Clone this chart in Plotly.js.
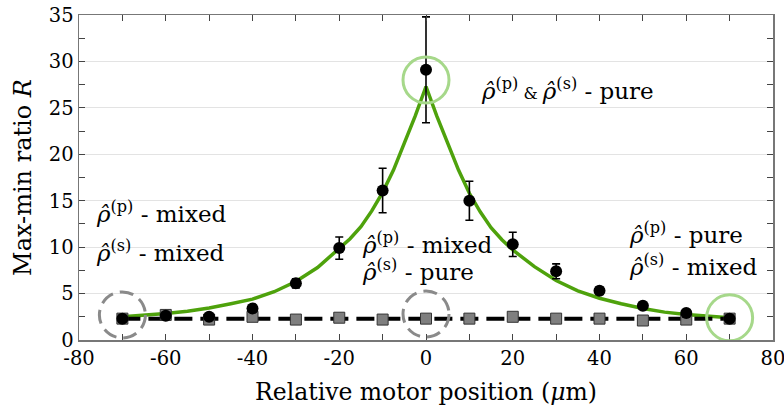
<!DOCTYPE html>
<html>
<head>
<meta charset="utf-8">
<script src="https://cdn.plot.ly/plotly-3.0.1.min.js"></script>
<style>html,body{margin:0;padding:0;background:#fff;}#chart{width:784px;height:417px;}</style>
</head>
<body>
<div id="chart"></div>
<script>
// Measured points (black circles)
var posX = [-70, -60, -50, -40, -30, -20, -10, 0, 10, 20, 30, 40, 50, 60, 70];
var ratioR = [2.3, 2.6, 2.5, 3.4, 6.1, 9.9, 16.1, 29.1, 15.0, 10.3, 7.4, 5.3, 3.7, 2.9, 2.3];
var ratioErr = [0.2, 0.3, 0.2, 0.3, 0.5, 1.2, 2.4, 5.7, 2.1, 1.3, 0.8, 0.4, 0.3, 0.2, 0.2];
// Reference points (gray squares)
var refR = [2.3, 2.7, 2.2, 2.5, 2.2, 2.4, 2.2, 2.3, 2.3, 2.5, 2.3, 2.3, 2.1, 2.2, 2.3];
// Green fitted curve
var fitX = [-70, -65, -60, -55, -50, -45, -40, -35, -30, -25, -20, -17.5, -15, -12.5, -10, -7.5, -5, -2.5, 0,
            2.5, 5, 7.5, 10, 12.5, 15, 17.5, 20, 25, 30, 35, 40, 45, 50, 55, 60, 65, 70];
var fitY = [2.5, 2.65, 2.85, 3.1, 3.45, 3.9, 4.4, 5.2, 6.3, 7.8, 9.8, 10.9, 12.2, 13.9, 15.9, 18.3, 21.2, 24.1, 27.3,
            24.1, 21.2, 18.3, 15.8, 13.8, 12.1, 10.8, 9.7, 7.9, 6.4, 5.3, 4.5, 3.9, 3.4, 3.0, 2.75, 2.55, 2.4];
// Black dashed constant line
var flatX = [-70, 70];
var flatY = [2.3, 2.3];
// Tick labels
var xTickVals = [-80, -60, -40, -20, 0, 20, 40, 60, 80];
var xTickText = ['-80', '-60', '-40', '-20', '0', '20', '40', '60', '80'];
// Highlighted states (circles): [x, R]
var grayMarks = [[-70, 2.7], [0, 2.8]];
var greenMarks = [[0, 28.0], [70, 2.4]];

var FONT = 'DejaVu Serif';
var rho = function (s) { return '<i>ρ̂</i><sup>(' + s + ')</sup>'; };

var traces = [
  {x: fitX, y: fitY, mode: 'lines', line: {color: '#4ea20c', width: 3.5}, hoverinfo: 'skip'},
  {x: flatX, y: flatY, mode: 'lines', line: {color: '#000', width: 4, dash: '18px,8px'}, hoverinfo: 'skip'},
  {x: posX, y: refR, mode: 'markers', marker: {symbol: 'square', size: 11, color: '#7f7f7f', line: {color: '#333', width: 1}}},
  {x: posX, y: ratioR, mode: 'markers',
   error_y: {type: 'data', array: ratioErr, visible: true, color: '#000', thickness: 1.6, width: 4},
   marker: {symbol: 'circle', size: 12, color: '#000'}}
];

var shapes = [];
grayMarks.forEach(function (m) {
  shapes.push({type: 'circle', xref: 'x', yref: 'y', xsizemode: 'pixel', ysizemode: 'pixel',
    xanchor: m[0], yanchor: m[1], x0: -23, x1: 23, y0: -23, y1: 23,
    line: {color: '#8a8a8a', width: 3, dash: '14px,7px'}});
});
greenMarks.forEach(function (m) {
  shapes.push({type: 'circle', xref: 'x', yref: 'y', xsizemode: 'pixel', ysizemode: 'pixel',
    xanchor: m[0], yanchor: m[1], x0: -23, x1: 23, y0: -23, y1: 23,
    line: {color: '#a6d88a', width: 3}});
});

function ann(x, y, text) {
  return {x: x, y: y, xref: 'x', yref: 'y', text: text, showarrow: false,
    xanchor: 'left', yanchor: 'middle', font: {family: FONT, size: 23, color: '#000'}};
}
var annotations = [
  ann(12.3, 27.0, rho('p') + '<span style="font-size:16px"> &amp; </span>' + rho('s') + ' - pure'),
  ann(-76.5, 13.8, rho('p') + ' - mixed'),
  ann(-76.5, 9.6, rho('s') + ' - mixed'),
  ann(-15.3, 10.4, rho('p') + ' - mixed'),
  ann(-15.3, 7.5, rho('s') + ' - pure'),
  ann(46.3, 11.5, rho('p') + ' - pure'),
  ann(46.3, 8.1, rho('s') + ' - mixed')
];

var axisCommon = {
  showline: true, linecolor: '#777', linewidth: 1.5, mirror: 'allticks',
  ticks: 'inside', ticklen: 6, tickcolor: '#444', tickwidth: 1,
  zeroline: false, ticklabeloverflow: 'allow', tickfont: {family: FONT, size: 19.5, color: '#000'}
};

var layout = {
  width: 784, height: 417,
  margin: {l: 79, r: 11, t: 15, b: 77},
  paper_bgcolor: '#fff', plot_bgcolor: '#fff',
  showlegend: false,
  font: {family: FONT, color: '#000'},
  xaxis: Object.assign({}, axisCommon, {
    range: [-80, 80], tickvals: xTickVals, ticktext: xTickText, showgrid: false,
    minor: {dtick: 10, tick0: 0, ticks: 'inside', ticklen: 6, tickcolor: '#444', showgrid: false},
    title: {text: 'Relative motor position (<i>μ</i>m)', font: {family: FONT, size: 23.5, color: '#000'}, standoff: 14}
  }),
  yaxis: Object.assign({}, axisCommon, {
    range: [0, 35], dtick: 5, tick0: 0, showgrid: true, gridcolor: '#e3e3e3', gridwidth: 1,
    minor: {dtick: 2.5, ticks: 'inside', ticklen: 6, tickcolor: '#444', showgrid: false},
    title: {text: 'Max-min ratio <i>R</i>', font: {family: FONT, size: 24, color: '#000'}, standoff: 10}
  }),
  shapes: shapes,
  annotations: annotations
};

Plotly.newPlot('chart', traces, layout, {staticPlot: true, displayModeBar: false});
</script>
</body>
</html>
